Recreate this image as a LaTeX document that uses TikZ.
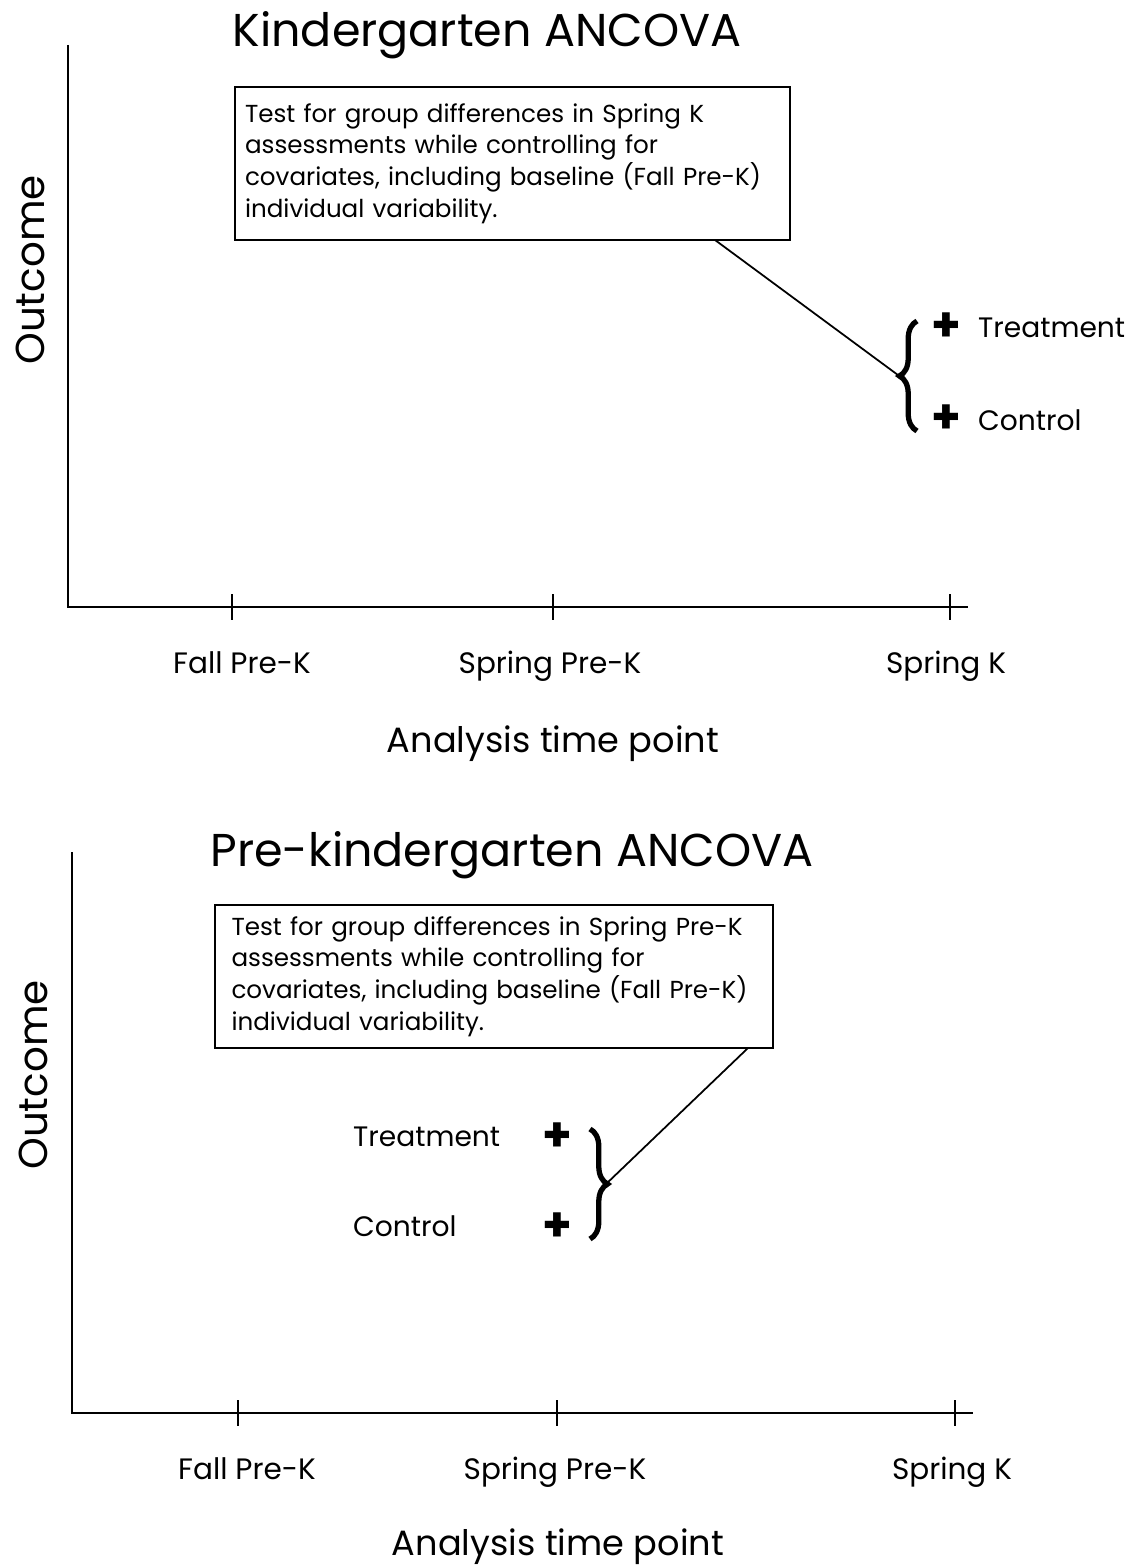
\documentclass[tikz,border=0pt]{standalone}
\usepackage{fontspec}
\setmainfont{Poppins}
\usetikzlibrary{decorations.pathreplacing}
\begin{document}
\begin{tikzpicture}[x=0.02cm,y=-0.02cm,
    axisline/.style={line width=1.2pt},
    ticktext/.style={anchor=base,font=\fontsize{16.8}{18}\selectfont},
    axistext/.style={anchor=base,font=\fontsize{20}{22}\selectfont},
    outcometext/.style={rotate=90,font=\fontsize{23}{25}\selectfont},
    titletext/.style={anchor=base,font=\fontsize{26.2}{30}\selectfont},
    notebox/.style={draw,line width=1.4pt,inner sep=0pt,align=left,
      font=\fontsize{14}{18}\selectfont},
    grouptext/.style={font=\fontsize{16}{18}\selectfont},
    plussign/.style={font=\fontsize{27}{27}\selectfont\bfseries,inner sep=0pt},
    groupbrace/.style={decorate,decoration={brace,amplitude=10pt},line width=3pt},
    leader/.style={line width=1pt}]
  \useasboundingbox (0,0) rectangle (1133,1568);
  % top panel: Kindergarten
  \draw[axisline] (68,45) -- (68,607) -- (968,607);
  \foreach \x in {232,553,950}
    \draw[axisline] (\x,594) -- (\x,620);
  \draw
    (487,47) node[titletext] (ktitle) {Kindergarten ANCOVA}
    (30,270) node[outcometext] (kylabel) {Outcome}
    (242,673) node[ticktext] (kfall) {Fall Pre-K}
    (550,673) node[ticktext] (kspringpk) {Spring Pre-K}
    (946,673) node[ticktext] (kspringk) {Spring K}
    (553,752) node[axistext] (kxlabel) {Analysis time point}
    (946,327) node[plussign] (ktreatplus) {+}
    (946,419) node[plussign] (kcontrolplus) {+}
    (972,328) node[grouptext,anchor=west] (ktreat) {Treatment}
    (972,420) node[grouptext,anchor=west] (kcontrol) {Control};
  \draw (512.5,163.5) node[notebox,minimum width=11.1cm,minimum height=3.06cm,
      text width=10.7cm] (kbox)
    {Test for group differences in Spring K\\
     assessments while controlling for\\
     covariates, including baseline (Fall Pre-K)\\
     individual variability.};
  \coordinate (kfoot) at (715,240);
  \coordinate (ktip) at (902,378);
  \draw[groupbrace] (917,431) -- (917,321);
  \draw[leader] (kfoot) -- (ktip);
  % bottom panel: Pre-kindergarten
  \draw[axisline] (72,852) -- (72,1413) -- (973,1413);
  \foreach \x in {238,557,955}
    \draw[axisline] (\x,1400) -- (\x,1426);
  \draw
    (512,866) node[titletext] (ptitle) {Pre-kindergarten ANCOVA}
    (33,1075) node[outcometext] (pylabel) {Outcome}
    (247,1479) node[ticktext] (pfall) {Fall Pre-K}
    (555,1479) node[ticktext] (pspringpk) {Spring Pre-K}
    (952,1479) node[ticktext] (pspringk) {Spring K}
    (558,1555) node[axistext] (pxlabel) {Analysis time point}
    (557,1137) node[plussign] (ptreatplus) {+}
    (557,1227) node[plussign] (pcontrolplus) {+}
    (347,1137) node[grouptext,anchor=west] (ptreat) {Treatment}
    (347,1226) node[grouptext,anchor=west] (pcontrol) {Control};
  \draw (494,976.5) node[notebox,minimum width=11.16cm,minimum height=2.86cm,
      text width=10.5cm] (pbox)
    {Test for group differences in Spring Pre-K\\
     assessments while controlling for\\
     covariates, including baseline (Fall Pre-K)\\
     individual variability.};
  \coordinate (pfoot) at (748,1048);
  \coordinate (ptip) at (605,1185);
  \draw[groupbrace] (590,1129) -- (590,1239);
  \draw[leader] (pfoot) -- (ptip);
\end{tikzpicture}
\end{document}
